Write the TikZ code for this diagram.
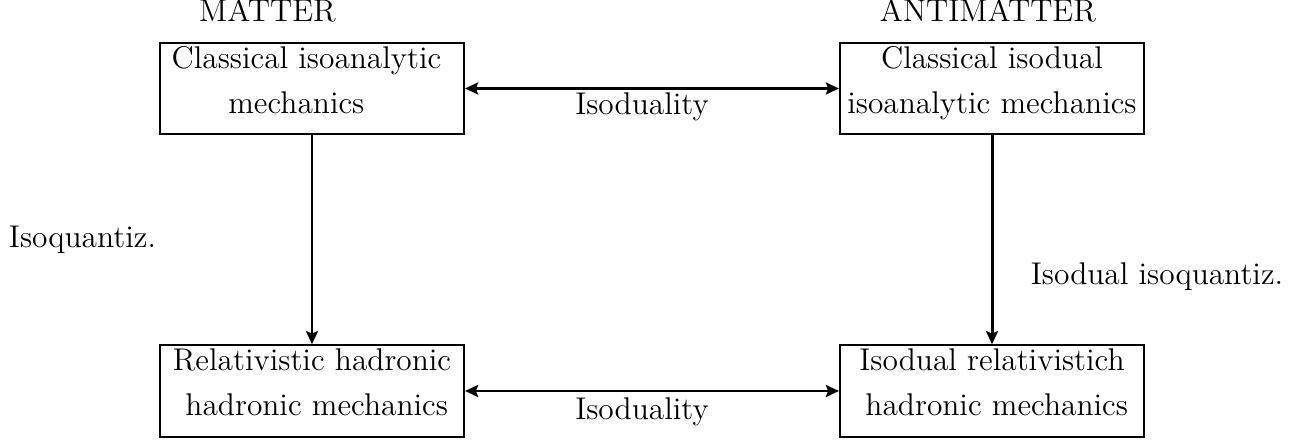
\documentclass[tikz,border=0pt]{standalone}
\usetikzlibrary{arrows.meta}
\newcommand\lnstrut{\rule[-0.55em]{0pt}{1.1em}}
\begin{document}
\begin{tikzpicture}[x=0.382pt,y=-0.382pt,
  every node/.style={font=\fontsize{12}{17.2}\selectfont},
  mbox/.style={draw,line width=0.85pt,inner sep=0pt,minimum width=116.1pt,minimum height=34.9pt,align=center},
  lbl/.style={anchor=base,inner sep=0pt},
  conn/.style={line width=0.95pt,-{Stealth[length=5pt,width=4.6pt,inset=0.9pt]}},
  dconn/.style={line width=0.95pt,{Stealth[length=5pt,width=4.6pt,inset=0.9pt]}-{Stealth[length=5pt,width=4.6pt,inset=0.9pt]}}
]
\useasboundingbox (0,0) rectangle (1315,442);
\node[lbl] (matter) at (267.5,22) {MATTER};
\node[lbl] (antimatter) at (988,22) {ANTIMATTER};
\node[mbox] (tl) at (312,88.5) {\lnstrut Classical isoanalytic\hspace*{0.35em}\\\lnstrut mechanics\hspace*{1em}};
\node[mbox] (tr) at (992,88.5) {\lnstrut Classical isodual\\\lnstrut isoanalytic mechanics};
\node[mbox] (bl) at (312,391) {\lnstrut Relativistic hadronic\\\lnstrut\hspace*{0.3em}hadronic mechanics};
\node[mbox] (br) at (992,391) {\lnstrut Isodual relativistich\\\lnstrut\hspace*{0.3em}hadronic mechanics};
\draw[dconn] (tl) -- (tr);
\draw[dconn] (bl) -- (br);
\draw[conn] (tl) -- (bl);
\draw[conn,line width=1.15pt] (tr) -- (br);
\node[lbl] (iso1) at (642,115) {Isoduality};
\node[lbl] (iso2) at (642,420) {Isoduality};
\node[lbl] (q1) at (82.5,248) {Isoquantiz.};
\node[lbl] (q2) at (1157,285) {Isodual isoquantiz.};
\end{tikzpicture}
\end{document}
